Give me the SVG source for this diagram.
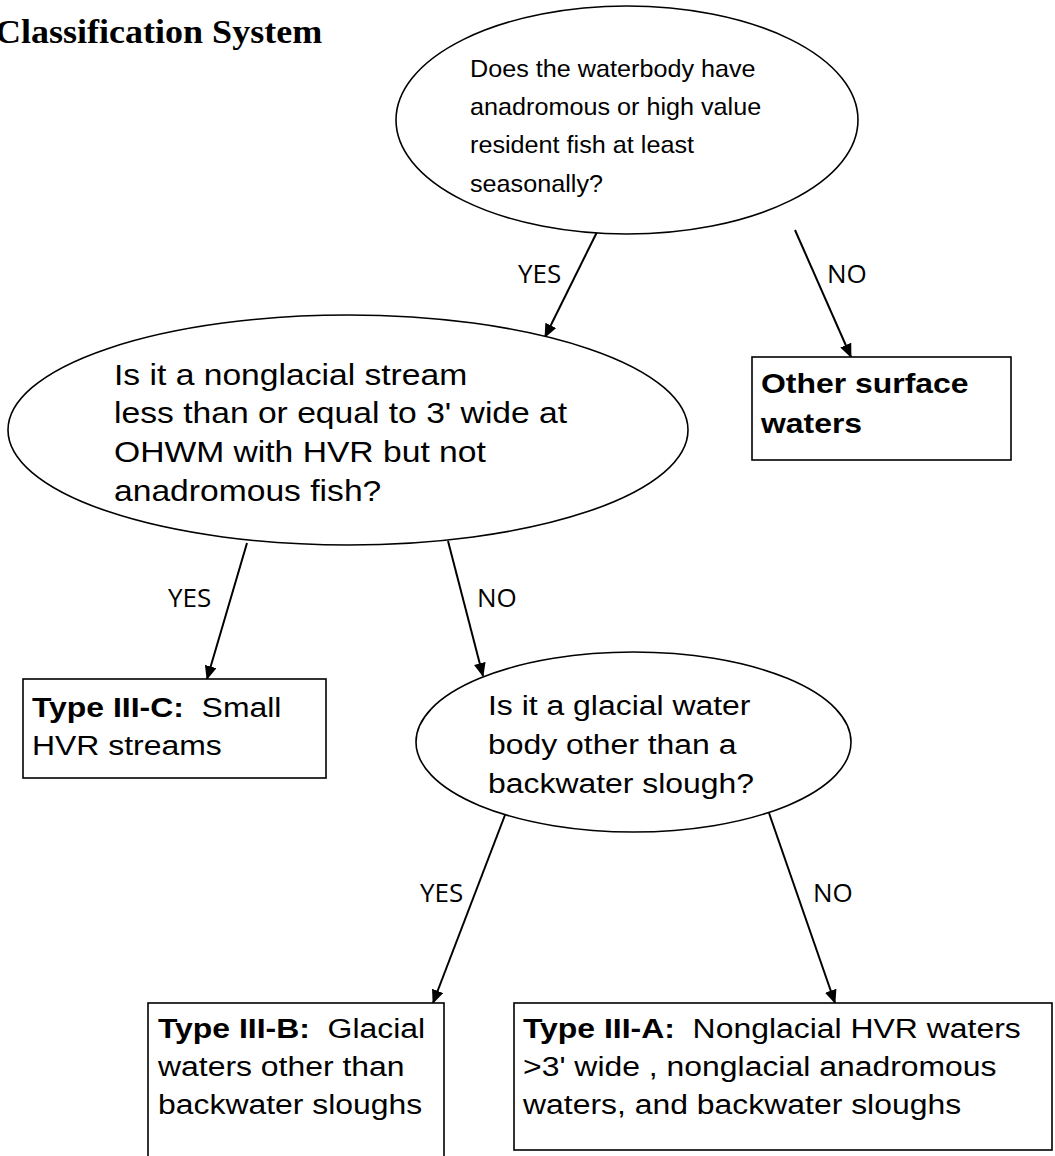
<svg xmlns="http://www.w3.org/2000/svg" width="1055" height="1156" viewBox="0 0 1055 1156">
<defs>
<marker id="ah" markerWidth="14" markerHeight="12" refX="13" refY="6" orient="auto" markerUnits="userSpaceOnUse">
<path d="M0,0 L14,6 L0,12 Z" fill="#000"/>
</marker>
<style>
.shape{fill:#fff;stroke:#000;stroke-width:1.6}
.conn{stroke:#000;stroke-width:2;fill:none;marker-end:url(#ah)}
.t{font-family:"Liberation Sans",Arial,sans-serif;font-size:28px;fill:#000}
.t1{font-family:"Liberation Sans",Arial,sans-serif;font-size:24px;fill:#000}
.t2{font-family:"Liberation Sans",Arial,sans-serif;font-size:29px;fill:#000}
.b{font-weight:bold}
.lbl{font-family:"Open Sans","Noto Sans",sans-serif;font-size:26px;fill:#000}
.title{font-family:"Liberation Serif","Times New Roman",serif;font-weight:bold;font-size:34px;fill:#000}
</style>
</defs>
<rect width="1055" height="1156" fill="#fff"/>
<text class="title" transform="translate(-5 43) scale(1.06 1)" x="0" y="0">Classification System</text>

<g id="connectors">
<line class="conn" x1="598" y1="230" x2="545" y2="337"/>
<line class="conn" x1="795" y1="230" x2="851" y2="357"/>
<line class="conn" x1="247" y1="543" x2="207" y2="679"/>
<line class="conn" x1="448" y1="541" x2="483" y2="676"/>
<line class="conn" x1="505" y1="815" x2="433" y2="1003"/>
<line class="conn" x1="769" y1="813" x2="835" y2="1003"/>
<text class="lbl" x="518" y="283">YES</text>
<text class="lbl" x="827" y="283">NO</text>
<text class="lbl" x="168" y="607">YES</text>
<text class="lbl" x="477" y="607">NO</text>
<text class="lbl" x="420" y="902">YES</text>
<text class="lbl" x="813" y="902">NO</text>
</g>

<g id="q1">
<ellipse class="shape" cx="627" cy="120" rx="231" ry="114"/>
<text class="t1" transform="translate(470 0) scale(1.05 1)"><tspan x="0" y="77">Does the waterbody have</tspan><tspan x="0" y="115">anadromous or high value</tspan><tspan x="0" y="153">resident fish at least</tspan><tspan x="0" y="192">seasonally?</tspan></text>
</g>

<g id="q2">
<ellipse class="shape" cx="348" cy="430" rx="340" ry="115"/>
<text class="t2" transform="translate(114 0) scale(1.16 1)"><tspan x="0" y="385">Is it a nonglacial stream</tspan><tspan x="0" y="423">less than or equal to 3' wide at</tspan><tspan x="0" y="462">OHWM with HVR but not</tspan><tspan x="0" y="501">anadromous fish?</tspan></text>
</g>

<g id="other">
<rect class="shape" x="752" y="357" width="259" height="103"/>
<text class="t b" transform="translate(761 0) scale(1.14 1)"><tspan x="0" y="393">Other surface</tspan><tspan x="0" y="433">waters</tspan></text>
</g>

<g id="type3c">
<rect class="shape" x="23" y="679" width="303" height="99"/>
<text class="t" transform="translate(32 0) scale(1.14 1)" xml:space="preserve"><tspan x="0" y="717"><tspan class="b">Type III-C:</tspan>  Small</tspan><tspan x="0" y="755">HVR streams</tspan></text>
</g>

<g id="q3">
<ellipse class="shape" cx="633.5" cy="742" rx="217.5" ry="90"/>
<text class="t" transform="translate(488 0) scale(1.14 1)"><tspan x="0" y="715">Is it a glacial water</tspan><tspan x="0" y="754">body other than a</tspan><tspan x="0" y="793">backwater slough?</tspan></text>
</g>

<g id="type3b">
<rect class="shape" x="148" y="1003" width="296" height="170"/>
<text class="t" transform="translate(158 0) scale(1.14 1)" xml:space="preserve"><tspan x="0" y="1038"><tspan class="b">Type III-B:</tspan>  Glacial</tspan><tspan x="0" y="1076">waters other than</tspan><tspan x="0" y="1114">backwater sloughs</tspan></text>
</g>

<g id="type3a">
<rect class="shape" x="514" y="1003" width="538" height="147"/>
<text class="t" transform="translate(523 0) scale(1.14 1)" xml:space="preserve"><tspan x="0" y="1038"><tspan class="b">Type III-A:</tspan>  Nonglacial HVR waters</tspan><tspan x="0" y="1076">&gt;3' wide , nonglacial anadromous</tspan><tspan x="0" y="1114">waters, and backwater sloughs</tspan></text>
</g>
</svg>
